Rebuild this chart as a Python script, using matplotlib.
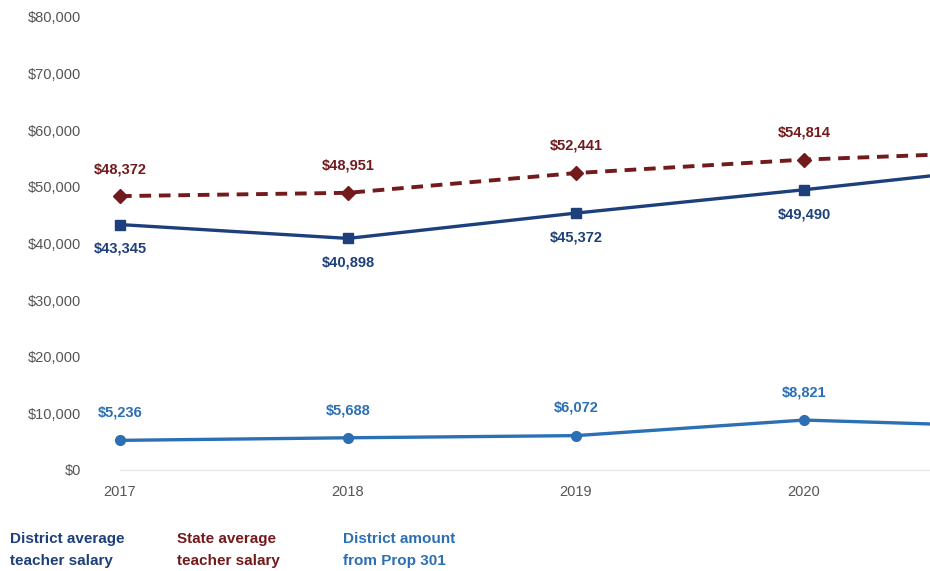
import matplotlib
matplotlib.use("Agg")
import matplotlib.pyplot as plt

plt.rcParams['font.family'] = ['Liberation Sans', 'DejaVu Sans']

years = [2017, 2018, 2019, 2020, 2021]
district_salary = [43345, 40898, 45372, 49490, 53900]
state_salary = [48372, 48951, 52441, 54814, 56330]
prop301 = [5236, 5688, 6072, 8821, 7570]
yticks = [0, 10000, 20000, 30000, 40000, 50000, 60000, 70000, 80000]

c_district = '#1d3f7b'
c_state = '#731a1c'
c_prop = '#2b6fb4'

fig = plt.figure(figsize=(9.3, 5.71), dpi=100)
ax = fig.add_axes([120/930, 101/571, 810/930, 453/571])

ax.plot(years, state_salary, color=c_state, lw=2.8, ls=(0, (3, 2)),
        marker='D', ms=7, clip_on=False, zorder=3)
ax.plot(years, district_salary, color=c_district, lw=2.4,
        marker='s', ms=7, clip_on=False, zorder=3)
ax.plot(years, prop301, color=c_prop, lw=2.4,
        marker='o', ms=7, clip_on=False, zorder=3)

# point labels, only the visible years
for i in range(4):
    ax.annotate('${:,}'.format(state_salary[i]), (years[i], state_salary[i]),
                xytext=(0, 19.5), textcoords='offset points', ha='center',
                va='center', color=c_state, fontsize=10.5, fontweight='bold')
    ax.annotate('${:,}'.format(district_salary[i]), (years[i], district_salary[i]),
                xytext=(0, -17.5), textcoords='offset points', ha='center',
                va='center', color=c_district, fontsize=10.5, fontweight='bold')
    ax.annotate('${:,}'.format(prop301[i]), (years[i], prop301[i]),
                xytext=(0, 20), textcoords='offset points', ha='center',
                va='center', color=c_prop, fontsize=10.5, fontweight='bold')

ax.set_xlim(2017, 2017 + 810/228)
ax.set_ylim(0, 80000)
ax.set_xticks(years[:4])
ax.set_xticklabels([str(y) for y in years[:4]])
ax.set_yticks(yticks)
ax.set_yticklabels(['${:,}'.format(v) for v in yticks])
ax.tick_params(axis='both', length=0, colors='#555555', labelsize=10.5)
ax.tick_params(axis='y', pad=28)
ax.tick_params(axis='x', pad=11)
for s in ['top', 'right', 'left']:
    ax.spines[s].set_visible(False)
ax.spines['bottom'].set_color('#e6e6e6')

fig.text(10/930, 1 - 550/571, 'District average\nteacher salary', color=c_district,
         fontsize=11, fontweight='bold', va='center', linespacing=1.8)
fig.text(177/930, 1 - 550/571, 'State average\nteacher salary', color=c_state,
         fontsize=11, fontweight='bold', va='center', linespacing=1.8)
fig.text(343/930, 1 - 550/571, 'District amount\nfrom Prop 301', color=c_prop,
         fontsize=11, fontweight='bold', va='center', linespacing=1.8)

fig.savefig('out.png', dpi=100)
